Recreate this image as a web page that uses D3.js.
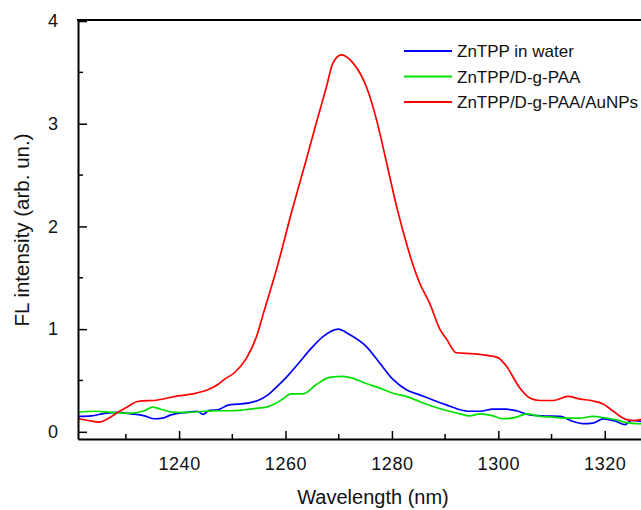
<!DOCTYPE html>
<html>
<head>
<meta charset="utf-8">
<script src="https://cdn.jsdelivr.net/npm/d3@7"></script>
<style>
  body { margin: 0; background: #fff; }
  text { font-family: "Liberation Sans", Arial, sans-serif; fill: #111; }
</style>
</head>
<body>
<svg id="chart" width="641" height="510"></svg>
<script>
// wavelength (nm) / intensity pairs
var blue_wl = [1221.0,1223.5,1226.0,1228.5,1231.0,1233.5,1235.4,1236.9,1238.5,1239.8,1241.6,1243.5,1244.5,1245.7,1247.3,1249.2,1251.0,1252.9,1254.8,1256.7,1258.4,1260.5,1262.5,1264.6,1267.1,1269.9,1272.1,1275.2,1277.7,1280.2,1282.7,1285.2,1287.7,1290.3,1292.8,1294.6,1296.5,1299.0,1301.5,1303.4,1305.9,1308.4,1311.6,1314.1,1315.9,1317.8,1319.7,1322.2,1323.8,1325.0,1327.0];
var blue_val = [0.15,0.155,0.18,0.19,0.175,0.155,0.127,0.133,0.165,0.18,0.19,0.20,0.17,0.21,0.215,0.26,0.27,0.28,0.305,0.36,0.44,0.55,0.67,0.80,0.93,1.00,0.945,0.83,0.67,0.51,0.41,0.36,0.31,0.26,0.215,0.20,0.20,0.22,0.22,0.205,0.165,0.155,0.15,0.10,0.08,0.085,0.125,0.10,0.07,0.11,0.10];

var green_wl = [1221.0,1224.1,1227.2,1230.4,1233.5,1235.0,1236.6,1239.1,1241.6,1244.8,1247.3,1249.8,1252.3,1254.8,1256.7,1257.9,1259.5,1261.0,1263.3,1265.8,1268.3,1270.8,1272.7,1275.2,1277.7,1280.2,1282.7,1285.2,1287.7,1290.3,1292.8,1294.6,1296.5,1299.0,1300.9,1303.4,1305.3,1307.8,1310.3,1312.8,1315.3,1317.8,1320.3,1322.2,1324.1,1327.0];
var green_val = [0.19,0.20,0.19,0.18,0.205,0.24,0.22,0.19,0.19,0.20,0.205,0.205,0.215,0.23,0.245,0.27,0.32,0.37,0.37,0.46,0.53,0.54,0.52,0.47,0.425,0.375,0.345,0.295,0.246,0.207,0.175,0.156,0.175,0.155,0.127,0.143,0.175,0.15,0.143,0.133,0.133,0.15,0.133,0.117,0.09,0.078];

var red_wl = [1221.0,1223.0,1225.0,1227.0,1228.5,1230.5,1232.2,1236.0,1239.8,1242.6,1245.4,1247.3,1248.5,1250.5,1252.7,1254.5,1256.0,1258.3,1261.4,1263.9,1265.8,1267.7,1268.9,1270.5,1272.7,1275.2,1277.1,1279.0,1280.9,1282.7,1284.0,1285.2,1287.1,1289.0,1290.3,1292.1,1295.3,1298.4,1300.0,1301.5,1304.0,1305.9,1307.8,1310.3,1313.1,1315.3,1317.8,1319.7,1321.6,1323.8,1325.3,1327.0];
var red_val = [0.13,0.11,0.094,0.14,0.19,0.25,0.295,0.31,0.35,0.37,0.41,0.46,0.51,0.58,0.72,0.92,1.18,1.58,2.19,2.65,3.01,3.36,3.59,3.67,3.59,3.36,3.04,2.62,2.19,1.84,1.62,1.45,1.25,1.00,0.90,0.77,0.76,0.74,0.72,0.64,0.43,0.33,0.305,0.305,0.345,0.32,0.30,0.27,0.20,0.124,0.11,0.12];

var series_names = ['ZnTPP in water', 'ZnTPP/D-g-PAA', 'ZnTPP/D-g-PAA/AuNPs'];
var series_colors = ['#0000ff', '#00e000', '#ff0000'];
var x_ticks = [1240, 1260, 1280, 1300, 1320];
var y_ticks = [0, 1, 2, 3, 4];

var LEFT = 78, RIGHT = 642, TOP = 20, BOTTOM = 439;

var svg = d3.select('#chart');

var x = d3.scaleLinear()
  .domain([1221, 1327])
  .range([LEFT, RIGHT]);

var y = d3.scaleLinear()
  .domain([-0.07, 4.01])
  .range([BOTTOM, TOP]);

var series = [
  d3.zip(blue_wl, blue_val),
  d3.zip(green_wl, green_val),
  d3.zip(red_wl, red_val)
];

svg.append('clipPath')
  .attr('id', 'plot_clip')
  .append('rect')
  .attr('x', LEFT).attr('y', TOP)
  .attr('width', RIGHT - LEFT).attr('height', BOTTOM - TOP);

var line = d3.line()
  .x(function(d) { return x(d[0]); })
  .y(function(d) { return y(d[1]); })
  .curve(d3.curveMonotoneX);

svg.append('g')
  .attr('clip-path', 'url(#plot_clip)')
  .selectAll('path')
  .data(series)
  .enter().append('path')
  .attr('d', line)
  .attr('fill', 'none')
  .attr('stroke', function(d, i) { return series_colors[i]; })
  .attr('stroke-width', 1.7)
  .attr('stroke-linejoin', 'round');

// axes, ticks point into the plot
var x_minor = x_ticks.map(function(t) { return t - 10; });
var y_minor = y_ticks.slice(0, 4).map(function(t) { return t + 0.5; });

var xAxis = svg.append('g')
  .attr('class', 'axis axis--x')
  .attr('transform', 'translate(0,' + BOTTOM + ')')
  .call(d3.axisBottom(x).tickValues(x_ticks).tickSizeInner(-8).tickSizeOuter(0).tickPadding(18).tickFormat(d3.format('d')));

x_minor.forEach(function(t) {
  xAxis.append('line')
    .attr('x1', x(t)).attr('x2', x(t))
    .attr('y1', 0).attr('y2', -5)
    .attr('stroke', '#000').attr('stroke-width', 1.5);
});

var yAxis = svg.append('g')
  .attr('class', 'axis axis--y')
  .attr('transform', 'translate(' + LEFT + ',0)')
  .call(d3.axisLeft(y).tickValues(y_ticks).tickSizeInner(-9).tickSizeOuter(0).tickPadding(20).tickFormat(d3.format('d')));

y_minor.forEach(function(t) {
  yAxis.append('line')
    .attr('x1', 0).attr('x2', 5)
    .attr('y1', y(t)).attr('y2', y(t))
    .attr('stroke', '#000').attr('stroke-width', 1.5);
});

svg.selectAll('.axis .domain')
  .attr('stroke', '#000')
  .attr('stroke-width', 2);
svg.selectAll('.axis .tick line')
  .attr('stroke', '#000')
  .attr('stroke-width', 1.5);
svg.selectAll('.axis .tick text')
  .attr('font-family', '"Liberation Sans", Arial, sans-serif')
  .attr('font-size', '18px')
  .attr('fill', '#111');
xAxis.selectAll('.tick text').attr('letter-spacing', '0.6px');

// top frame
svg.append('line')
  .attr('x1', LEFT - 1).attr('x2', RIGHT)
  .attr('y1', TOP).attr('y2', TOP)
  .attr('stroke', '#000')
  .attr('stroke-width', 2);

// axis titles
svg.append('text')
  .attr('x', 373)
  .attr('y', 504)
  .attr('text-anchor', 'middle')
  .attr('font-size', '20px')
  .text('Wavelength (nm)');

svg.append('text')
  .attr('transform', 'translate(29,230) rotate(-90)')
  .attr('text-anchor', 'middle')
  .attr('font-size', '20.5px')
  .text('FL intensity (arb. un.)');

// legend
var legend = svg.append('g')
  .selectAll('g')
  .data(series_names)
  .enter().append('g')
  .attr('transform', function(d, i) { return 'translate(404,' + (51 + i * 25.5) + ')'; });

legend.append('line')
  .attr('x1', 0).attr('x2', 48)
  .attr('y1', 0).attr('y2', 0)
  .attr('stroke', function(d, i) { return series_colors[i]; })
  .attr('stroke-width', 2);

legend.append('text')
  .attr('x', 53)
  .attr('y', 6)
  .attr('font-size', '17px')
  .text(function(d) { return d; });
</script>
</body>
</html>
